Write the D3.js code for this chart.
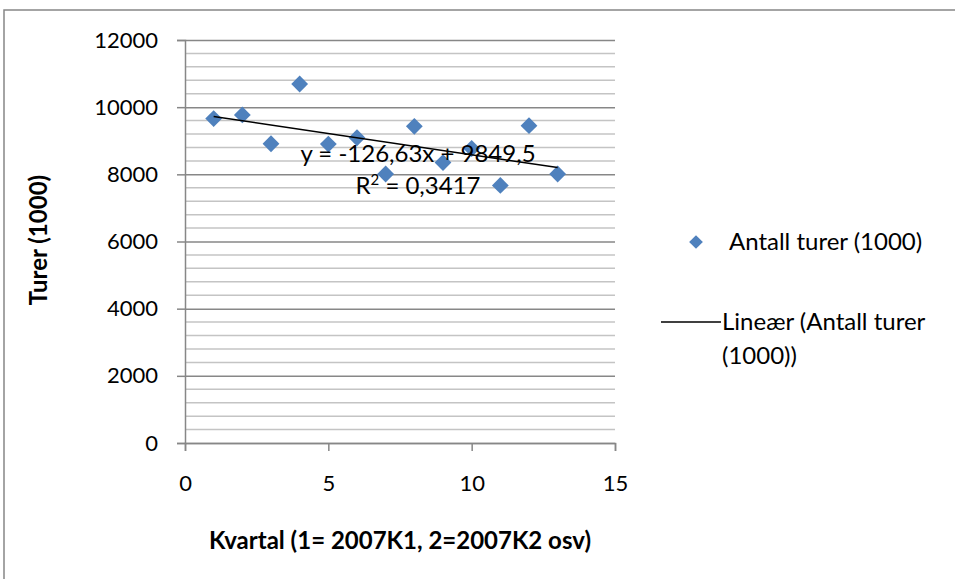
<!DOCTYPE html>
<html>
<head>
<meta charset="utf-8">
<script src="https://cdn.jsdelivr.net/npm/d3@7"></script>
<style>
  html, body { margin: 0; padding: 0; background: #fff; }
  svg { display: block; font-family: Lato, "Open Sans", sans-serif; }
</style>
</head>
<body>
<svg id="chart" width="955" height="579"></svg>
<script>
// Kvartal (1 = 2007K1, 2 = 2007K2, ...)
const quarters = [1, 2, 3, 4, 5, 6, 7, 8, 9, 10, 11, 12, 13];
// Antall turer (1000)
const trips = [9660, 9770, 8910, 10690, 8900, 9090, 8010, 9430, 8350, 8770, 7670, 9450, 8010];
// Lineær trend: y = slope * x + intercept
const trendSlope = -126.63;
const trendIntercept = 9849.5;
const trendR2 = 0.3417;
const xTicks = [0, 5, 10, 15];
const yTicks = [0, 2000, 4000, 6000, 8000, 10000, 12000];
const yMinorStep = 400;

const svg = d3.select("#chart");
const fmtNo = v => String(v).replace(".", ",");

// Chart frame
svg.append("rect")
  .attr("x", 4).attr("y", 10).attr("width", 1000).attr("height", 1000)
  .attr("fill", "none").attr("stroke", "#878787").attr("stroke-width", 1.5);

const plot = { left: 185, right: 615, top: 40, bottom: 443 };
const x = d3.scaleLinear().domain([0, 15]).range([plot.left, plot.right]);
const y = d3.scaleLinear().domain([0, 12000]).range([plot.bottom, plot.top]);

// Minor gridlines
const minor = d3.range(0, 12001, yMinorStep).filter(v => v % 2000 !== 0);
svg.append("g").selectAll("line").data(minor).join("line")
  .attr("x1", plot.left).attr("x2", plot.right)
  .attr("y1", d => y(d)).attr("y2", d => y(d))
  .attr("stroke", "#c4c4c4").attr("stroke-width", 1.5);

// Major gridlines + y axis
const yAxis = d3.axisLeft(y).tickValues(yTicks).tickSize(8).tickPadding(19).tickFormat(d => d);
const gy = svg.append("g").attr("transform", `translate(${plot.left},0)`).call(yAxis);
gy.select(".domain").attr("stroke", "#878787").attr("stroke-width", 1.5);
gy.selectAll(".tick line").attr("stroke", "#878787").attr("stroke-width", 1.5);
gy.selectAll(".tick").append("line")
  .attr("x1", 0).attr("x2", plot.right - plot.left)
  .attr("stroke", "#878787").attr("stroke-width", 1.5);
gy.selectAll(".tick text").attr("font-size", 22).attr("fill", "#000")
  .attr("font-family", "Lato, sans-serif");

// X axis
const xAxis = d3.axisBottom(x).tickValues(xTicks).tickSize(8).tickPadding(24);
const gx = svg.append("g").attr("transform", `translate(0,${plot.bottom})`).call(xAxis);
gx.select(".domain").attr("stroke", "#878787").attr("stroke-width", 1.5);
gx.selectAll(".tick line").attr("stroke", "#878787").attr("stroke-width", 1.5);
gx.selectAll(".tick text").attr("font-size", 22).attr("fill", "#000")
  .attr("font-family", "Lato, sans-serif");

// Data points (diamonds)
const diamond = d3.symbol().type(d3.symbolDiamond2).size(180);
const pts = quarters.map((q, i) => ({ q, v: trips[i] }));
svg.append("g").selectAll("path").data(pts).join("path")
  .attr("d", diamond)
  .attr("transform", d => `translate(${x(d.q)},${y(d.v)})`)
  .attr("fill", "#4f81bd");

// Linear trend line
const trendX = d3.extent(quarters);
svg.append("line")
  .attr("x1", x(trendX[0])).attr("y1", y(trendSlope * trendX[0] + trendIntercept))
  .attr("x2", x(trendX[1])).attr("y2", y(trendSlope * trendX[1] + trendIntercept))
  .attr("stroke", "#000").attr("stroke-width", 1.5);

// Trend equation
const eq = svg.append("g").attr("font-size", 24).attr("fill", "#000");
eq.append("text").attr("x", 418).attr("y", 162).attr("text-anchor", "middle")
  .text(`y = ${fmtNo(trendSlope)}x + ${fmtNo(trendIntercept)}`);
const r2 = eq.append("text").attr("x", 418).attr("y", 194).attr("text-anchor", "middle");
r2.append("tspan").text("R");
r2.append("tspan").attr("dy", -9).attr("font-size", 15).text("2");
r2.append("tspan").attr("dy", 9).text(` = ${fmtNo(trendR2)}`);

// Axis titles
svg.append("text")
  .attr("transform", "translate(47,240) rotate(-90)")
  .attr("text-anchor", "middle").attr("font-size", 24).attr("font-weight", "bold")
  .text("Turer (1000)");
svg.append("text")
  .attr("x", 400).attr("y", 549).attr("text-anchor", "middle")
  .attr("font-size", 24).attr("font-weight", "bold")
  .text("Kvartal (1= 2007K1, 2=2007K2 osv)");

// Legend
const lg = svg.append("g").attr("font-size", 24).attr("fill", "#000");
lg.append("path").attr("d", d3.symbol().type(d3.symbolDiamond2).size(120))
  .attr("transform", "translate(696,242)").attr("fill", "#4f81bd");
lg.append("text").attr("x", 729).attr("y", 250).text("Antall turer (1000)");
lg.append("line").attr("x1", 661).attr("x2", 721).attr("y1", 322).attr("y2", 322)
  .attr("stroke", "#000").attr("stroke-width", 1.5);
lg.append("text").attr("x", 722).attr("y", 330).text("Lineær (Antall turer");
lg.append("text").attr("x", 722).attr("y", 364).text("(1000))");
</script>
</body>
</html>
